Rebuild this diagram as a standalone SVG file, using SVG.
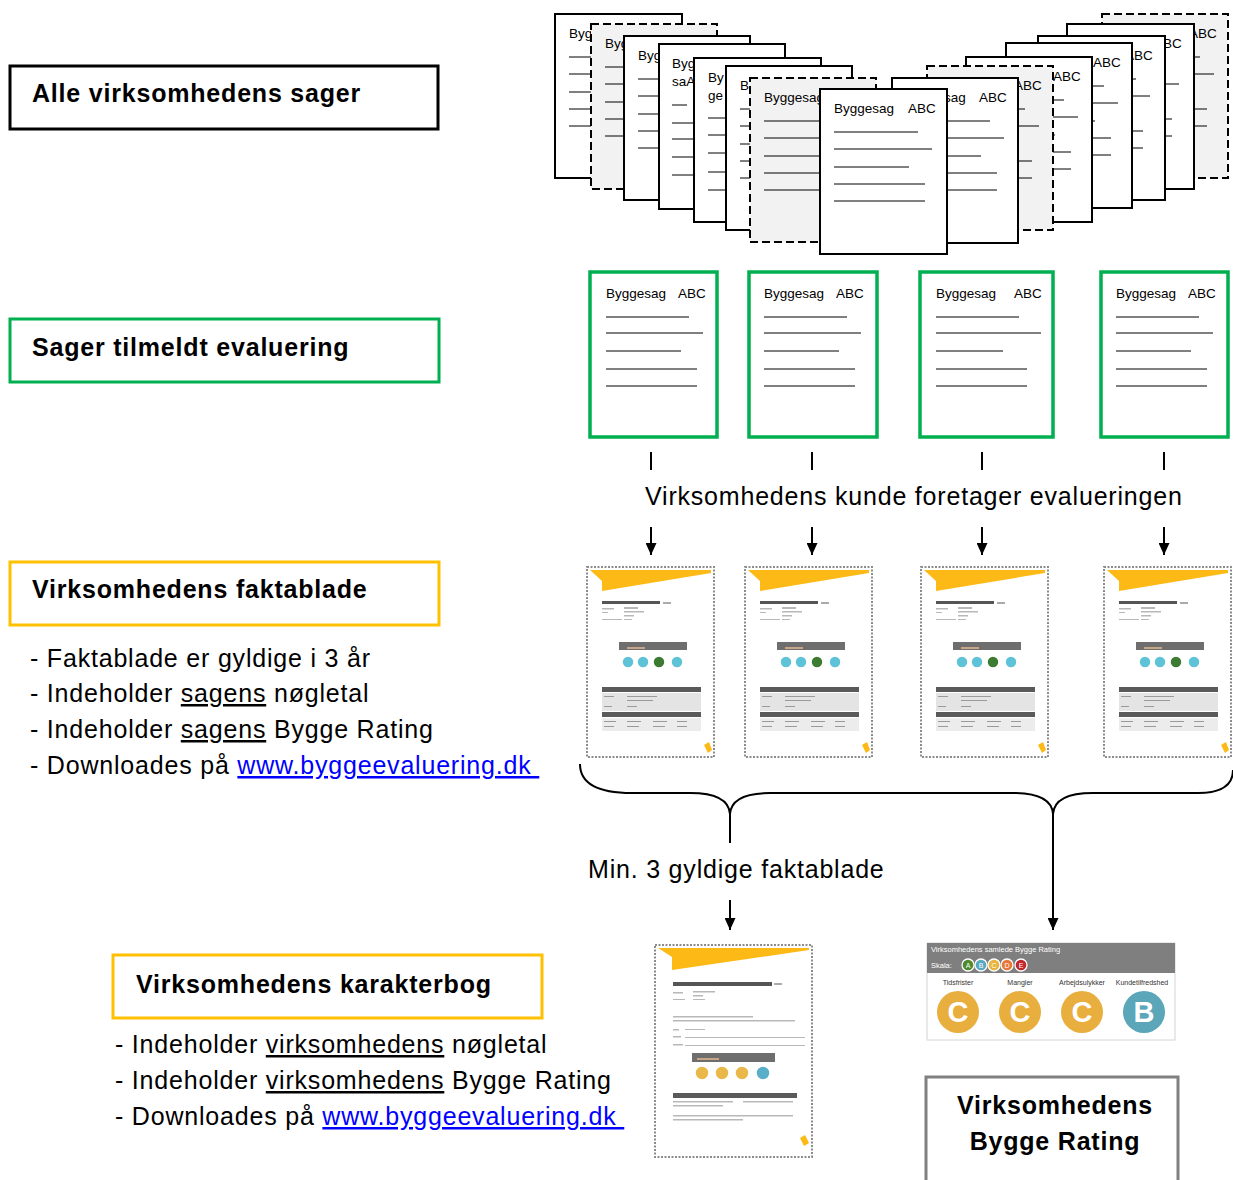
<svg xmlns="http://www.w3.org/2000/svg" xmlns:xlink="http://www.w3.org/1999/xlink" width="1233" height="1180" viewBox="0 0 1233 1180">
<style>
.t{font-family:"Liberation Sans",Arial,sans-serif;font-size:25px;letter-spacing:0.8px;fill:#000}
.b{font-weight:bold}
.u{text-decoration:underline}
.lk{fill:#0000FF;text-decoration:underline}
.dt{font-family:"Liberation Sans",Arial,sans-serif;font-size:13.5px;fill:#000}
.doc{fill:#fff;stroke:#000;stroke-width:2}
.docd{fill:#F2F2F2;stroke:#000;stroke-width:2;stroke-dasharray:8 4}
.gdoc{fill:#fff;stroke:#00B050;stroke-width:3.5}
.ln{stroke:#000;stroke-width:1;fill:none}
.box{fill:#fff;stroke-width:3}
.con{stroke:#000;stroke-width:2;fill:none}
.pt{font-family:"Liberation Sans",Arial,sans-serif;font-size:7px;fill:#333}
.pw{font-family:"Liberation Sans",Arial,sans-serif;font-size:7.5px;fill:#fff}
.big{font-family:"Liberation Sans",Arial,sans-serif;font-size:29px;font-weight:bold;fill:#fff}
.sc{font-family:"Liberation Sans",Arial,sans-serif;font-size:7px;fill:#fff}
</style>
<defs>
<marker id="ah" markerUnits="userSpaceOnUse" markerWidth="12" markerHeight="11" refX="12" refY="5.5" orient="auto" viewBox="0 0 12 11">
<path d="M0,0 L12,5.5 L0,11 z" fill="#000"/>
</marker>
<path id="lines" class="ln" d="M14,43h84 M14,60h98 M14,78h75 M14,95h91 M14,112h91"/>
<path id="glines" class="ln" d="M16,45h83 M16,61h97 M16,79h75 M16,97h91 M16,114h91"/>
<filter id="soft" x="-5%" y="-5%" width="110%" height="110%"><feGaussianBlur stdDeviation="0.6"/></filter>
<g id="fs">
<rect x="0" y="0" width="127" height="190" fill="#fff" stroke="#8c8c8c" stroke-width="2" stroke-dasharray="2 1.5"/>
<polygon points="3,3 124,3 124,6 15,24 15,14" fill="#FDB913"/>
<rect x="15" y="34" width="58" height="3" fill="#555"/>
<rect x="76" y="35" width="8" height="2" fill="#aaa"/>
<g fill="#b8b8b8">
<rect x="15" y="41" width="12" height="1.5"/><rect x="37" y="40" width="14" height="2"/>
<rect x="37" y="44" width="20" height="1.5"/><rect x="15" y="45" width="6" height="1"/>
<rect x="37" y="48" width="10" height="1.5"/><rect x="15" y="52" width="20" height="1"/><rect x="37" y="52" width="8" height="1"/>
</g>
<rect x="32" y="75" width="68" height="8" fill="#6e6e6e"/>
<rect x="40" y="80" width="18" height="2" fill="#c7a587"/>
<g stroke="#fff" stroke-width="1.5">
<circle cx="41" cy="95" r="6" fill="#5EC3D7"/>
<circle cx="56" cy="95" r="6" fill="#5EC3D7"/>
<circle cx="72" cy="95" r="6" fill="#3D7A30"/>
<circle cx="90" cy="95" r="6" fill="#5EC3D7"/>
</g>
<rect x="15" y="120" width="99" height="5" fill="#5a5a5a"/>
<rect x="15" y="126" width="99" height="18" fill="#e4e4e4"/>
<g fill="#9a9a9a"><rect x="17" y="129" width="10" height="1"/><rect x="40" y="129" width="30" height="1"/><rect x="40" y="133" width="26" height="1"/><rect x="17" y="139" width="8" height="1"/><rect x="40" y="139" width="10" height="1"/></g>
<rect x="15" y="145" width="99" height="5" fill="#5a5a5a"/>
<rect x="15" y="151" width="99" height="13" fill="#ececec"/>
<g fill="#9a9a9a"><rect x="17" y="154" width="12" height="1"/><rect x="40" y="154" width="14" height="1"/><rect x="66" y="154" width="14" height="1"/><rect x="90" y="154" width="10" height="1"/><rect x="17" y="159" width="10" height="1"/><rect x="40" y="159" width="12" height="1"/><rect x="66" y="159" width="12" height="1"/><rect x="90" y="159" width="10" height="1"/></g>
<polygon points="117,178 122,175 125,183 121,186" fill="#FDB913"/>
</g>
<g id="kb">
<rect x="0" y="0" width="157" height="212" fill="#fff" stroke="#8c8c8c" stroke-width="2" stroke-dasharray="2 1.5"/>
<polygon points="3,3 154,3 154,5 17,25 17,12" fill="#FDB913"/>
<rect x="18" y="37" width="99" height="4" fill="#555"/>
<rect x="119" y="38" width="8" height="2" fill="#aaa"/>
<g fill="#b8b8b8">
<rect x="18" y="47" width="10" height="1.5"/><rect x="38" y="46" width="22" height="1.5"/>
<rect x="38" y="50" width="10" height="1.5"/><rect x="18" y="54" width="12" height="1"/><rect x="38" y="54" width="12" height="1"/>
<rect x="18" y="71" width="80" height="1.5"/><rect x="18" y="75" width="122" height="1.5"/>
<rect x="18" y="84" width="6" height="1.5"/><rect x="30" y="84" width="20" height="1"/>
<rect x="18" y="91" width="8" height="1.5"/><rect x="30" y="92" width="120" height="1"/>
<rect x="18" y="99" width="10" height="1.5"/><rect x="30" y="100" width="120" height="1"/>
</g>
<rect x="37" y="108" width="83" height="9" fill="#6e6e6e"/>
<rect x="42" y="113" width="22" height="2" fill="#c7a587"/>
<g stroke="#fff" stroke-width="1.5">
<circle cx="47" cy="128" r="7" fill="#EAB84A"/>
<circle cx="67" cy="128" r="7" fill="#EAB84A"/>
<circle cx="87" cy="128" r="7" fill="#EAB84A"/>
<circle cx="108" cy="128" r="7" fill="#5AAFC8"/>
</g>
<rect x="18" y="148" width="124" height="5" fill="#5a5a5a"/>
<g fill="#b8b8b8">
<rect x="18" y="156" width="60" height="1.5"/><rect x="88" y="156" width="50" height="1.5"/>
<rect x="18" y="160" width="50" height="1.5"/>
<rect x="18" y="170" width="120" height="1.5"/><rect x="18" y="174" width="70" height="1.5"/>
</g>
<polygon points="145,193 150,190 154,198 149,201" fill="#FDB913"/>
</g>
</defs>

<rect width="1233" height="1180" fill="#fff"/>

<!-- left labels -->
<g id="label-alle">
<rect class="box" x="10" y="66" width="428" height="63" stroke="#000" stroke-width="2"/>
<text class="t b" x="32" y="102">Alle virksomhedens sager</text>
</g>
<g id="label-tilmeldt">
<rect class="box" x="10" y="319" width="429" height="63" stroke="#00B050"/>
<text class="t b" x="32" y="356">Sager tilmeldt evaluering</text>
</g>
<g id="label-faktablade">
<rect class="box" x="10" y="562" width="429" height="63" stroke="#FFC000"/>
<text class="t b" x="32" y="598">Virksomhedens faktablade</text>
<text class="t" x="30" y="667">- Faktablade er gyldige i 3 år</text>
<text class="t" x="30" y="702">- Indeholder <tspan class="u">sagens</tspan> nøgletal</text>
<text class="t" x="30" y="738">- Indeholder <tspan class="u">sagens</tspan> Bygge Rating</text>
<text class="t" x="30" y="774">- Downloades på <tspan class="lk">www.byggeevaluering.dk&#160;</tspan></text>
</g>
<g id="label-karakterbog">
<rect class="box" x="113" y="955" width="429" height="63" stroke="#FFC000"/>
<text class="t b" x="136" y="993">Virksomhedens karakterbog</text>
<text class="t" x="115" y="1053">- Indeholder <tspan class="u">virksomhedens</tspan> nøgletal</text>
<text class="t" x="115" y="1089">- Indeholder <tspan class="u">virksomhedens</tspan> Bygge Rating</text>
<text class="t" x="115" y="1125">- Downloades på <tspan class="lk">www.byggeevaluering.dk&#160;</tspan></text>
</g>
<g id="label-rating">
<rect class="box" x="926" y="1077" width="252" height="120" stroke="#808080"/>
<text class="t b" x="1055" y="1114" text-anchor="middle">Virksomhedens</text>
<text class="t b" x="1055" y="1150" text-anchor="middle">Bygge Rating</text>
</g>

<!-- stack of all cases -->
<g id="stack">
<g id="d1"><rect class="doc" x="555" y="14" width="127" height="164"/><text class="dt" x="569" y="38">Byg</text><use href="#lines" x="555" y="14"/></g>
<g id="d2"><rect class="docd" x="591" y="24" width="126" height="165"/><text class="dt" x="605" y="48">Byg</text><use href="#lines" x="591" y="24"/></g>
<g id="d3"><rect class="doc" x="624" y="36" width="126" height="164"/><text class="dt" x="638" y="60">Byg</text><use href="#lines" x="624" y="36"/></g>
<g id="d4"><rect class="doc" x="659" y="44" width="126" height="165"/><text class="dt" x="672" y="68">Byg</text><text class="dt" x="672" y="86">saA</text><path class="ln" d="M672,105h15 M672,123h84 M672,139h98 M672,157h75 M672,175h91"/></g>
<g id="d5"><rect class="doc" x="694" y="58" width="127" height="164"/><text class="dt" x="708" y="82">By</text><text class="dt" x="708" y="100">ge</text><path class="ln" d="M708,118h84 M708,135h98 M708,153h75 M708,172h91 M708,190h91"/></g>
<g id="d6"><rect class="doc" x="726" y="66" width="126" height="164"/><text class="dt" x="740" y="90">B</text><use href="#lines" x="726" y="66"/></g>
<g id="d7"><rect class="docd" x="750" y="78" width="126" height="164"/><text class="dt" x="764" y="102">Byggesag</text><use href="#lines" x="750" y="78"/></g>
<g id="r7"><rect class="docd" x="1102" y="14" width="126" height="164"/><text class="dt" x="1189" y="38">ABC</text><use href="#lines" x="1102" y="14"/></g>
<g id="r6"><rect class="doc" x="1067" y="24" width="127" height="165"/><text class="dt" x="1154" y="48">ABC</text><use href="#lines" x="1067" y="24"/></g>
<g id="r5"><rect class="doc" x="1038" y="36" width="127" height="164"/><text class="dt" x="1125" y="60">ABC</text><use href="#lines" x="1038" y="36"/></g>
<g id="r4"><rect class="doc" x="1006" y="43" width="126" height="165"/><text class="dt" x="1093" y="67">ABC</text><use href="#lines" x="1006" y="43"/></g>
<g id="r3"><rect class="doc" x="966" y="57" width="126" height="165"/><text class="dt" x="1053" y="81">ABC</text><use href="#lines" x="966" y="57"/></g>
<g id="r2"><rect class="docd" x="927" y="66" width="126" height="164"/><text class="dt" x="1014" y="90">ABC</text><use href="#lines" x="927" y="66"/></g>
<g id="r1"><rect class="doc" x="892" y="78" width="126" height="165"/><text class="dt" x="944" y="102">sag<tspan x="979">ABC</tspan></text><use href="#lines" x="892" y="78"/></g>
<g id="c0"><rect class="doc" x="820" y="89" width="127" height="165"/><text class="dt" x="834" y="113">Byggesag<tspan x="908">ABC</tspan></text><use href="#lines" x="820" y="89"/></g>
</g>

<!-- enrolled cases -->
<g id="g1"><rect class="gdoc" x="590" y="272" width="127" height="165"/><text class="dt" x="606" y="298">Byggesag<tspan x="678">ABC</tspan></text><use href="#glines" x="590" y="272"/></g>
<g id="g2"><rect class="gdoc" x="749" y="272" width="128" height="165"/><text class="dt" x="764" y="298">Byggesag<tspan x="836">ABC</tspan></text><use href="#glines" x="748" y="272"/></g>
<g id="g3"><rect class="gdoc" x="920" y="272" width="133" height="165"/><text class="dt" x="936" y="298">Byggesag<tspan x="1014">ABC</tspan></text><path class="ln" d="M936,317h83 M936,333h105 M936,351h67 M936,369h91 M936,386h91"/></g>
<g id="g4"><rect class="gdoc" x="1101" y="272" width="127" height="165"/><text class="dt" x="1116" y="298">Byggesag<tspan x="1188">ABC</tspan></text><use href="#glines" x="1100" y="272"/></g>

<!-- fact sheets -->
<g id="f1" filter="url(#soft)"><use href="#fs" x="587" y="567"/></g>
<g id="f2" filter="url(#soft)"><use href="#fs" x="745" y="567"/></g>
<g id="f3" filter="url(#soft)"><use href="#fs" x="921" y="567"/></g>
<g id="f4" filter="url(#soft)"><use href="#fs" x="1104" y="567"/></g>

<!-- karakterbog -->
<g id="karakterbog" filter="url(#soft)"><use href="#kb" x="655" y="945"/></g>

<!-- rating panel -->
<g id="rating-panel">
<rect x="927" y="943" width="248" height="97" fill="#fff" stroke="#d4d4d4" stroke-width="1"/>
<rect x="927" y="943" width="248" height="30" fill="#7F7F7F"/>
<text class="pw" x="931" y="952">Virksomhedens samlede Bygge Rating</text>
<text class="pw" x="931" y="968">Skala:</text>
<g stroke="#fff" stroke-width="1.3">
<circle cx="968" cy="965" r="6" fill="#4E8A2E"/>
<circle cx="981" cy="965" r="6" fill="#5AA8C0"/>
<circle cx="994" cy="965" r="6" fill="#E8B440"/>
<circle cx="1007" cy="965" r="6" fill="#E8783A"/>
<circle cx="1021" cy="965" r="6" fill="#C0282E"/>
</g>
<g class="sc" text-anchor="middle">
<text x="968" y="967.5">A</text><text x="981" y="967.5">B</text><text x="994" y="967.5">C</text><text x="1007" y="967.5">D</text><text x="1021" y="967.5">E</text>
</g>
<g class="pt" text-anchor="middle">
<text x="958" y="985">Tidsfrister</text>
<text x="1020" y="985">Mangler</text>
<text x="1082" y="985">Arbejdsulykker</text>
<text x="1142" y="985">Kundetilfredshed</text>
</g>
<circle cx="958" cy="1012" r="21" fill="#E8AE3E"/>
<circle cx="1020" cy="1012" r="21" fill="#E8AE3E"/>
<circle cx="1082" cy="1012" r="21" fill="#E8AE3E"/>
<circle cx="1144" cy="1012" r="21" fill="#5BA6B8"/>
<g class="big" text-anchor="middle">
<text x="958" y="1022">C</text><text x="1020" y="1022">C</text><text x="1082" y="1022">C</text><text x="1144" y="1022">B</text>
</g>
</g>

<!-- connectors -->
<g id="connectors">
<path class="con" d="M651,452V470 M812,452V470 M982,452V470 M1164,452V470"/>
<text class="t" x="645" y="505">Virksomhedens kunde foretager evalueringen</text>
<line class="con" x1="651" y1="527" x2="651" y2="555" marker-end="url(#ah)"/>
<line class="con" x1="812" y1="527" x2="812" y2="555" marker-end="url(#ah)"/>
<line class="con" x1="982" y1="527" x2="982" y2="555" marker-end="url(#ah)"/>
<line class="con" x1="1164" y1="527" x2="1164" y2="555" marker-end="url(#ah)"/>
<path class="con" d="M580,764 C580,784 598,793 632,793 L690,793 C716,793 729,800 730,814 C731,800 744,793 770,793 L1013,793 C1039,793 1052,800 1053,814 C1054,800 1067,793 1093,793 L1198,793 C1222,793 1233,785 1233,770"/>
<line class="con" x1="730" y1="813" x2="730" y2="843"/>
<text class="t" x="588" y="878">Min. 3 gyldige faktablade</text>
<line class="con" x1="730" y1="900" x2="730" y2="930" marker-end="url(#ah)"/>
<line class="con" x1="1053" y1="813" x2="1053" y2="930" marker-end="url(#ah)"/>
</g>
</svg>
